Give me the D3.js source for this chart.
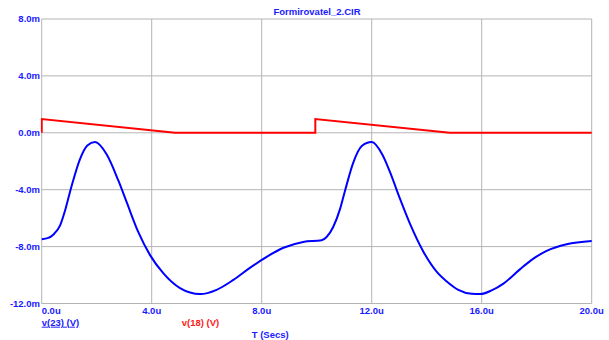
<!DOCTYPE html>
<html>
<head>
<meta charset="utf-8">
<script src="https://cdn.jsdelivr.net/npm/d3@7"></script>
<style>
  html, body { margin: 0; padding: 0; background: #fff; }
  svg { display: block; }
  text { font-family: "Liberation Sans", Arial, sans-serif; font-weight: bold; font-size: 9.5px; }
</style>
</head>
<body>
<svg id="chart" width="609" height="340"></svg>
<script>
// ---- data ----
const title = "Formirovatel_2.CIR";
const xTicks = [0, 4, 8, 12, 16, 20];            // microseconds
const xTickLabels = ["0.0u", "4.0u", "8.0u", "12.0u", "16.0u", "20.0u"];
const yTicks = [8, 4, 0, -4, -8, -12];           // millivolts
const yTickLabels = ["8.0m", "4.0m", "0.0m", "-4.0m", "-8.0m", "-12.0m"];

// v(23) (blue)
const v23Time = [0.0, 0.24, 0.42, 0.67, 0.85, 1.09, 1.39, 1.66, 1.94, 2.36, 2.79, 3.09, 3.51, 3.94, 4.42, 5.03, 5.76, 6.36, 6.97, 7.57, 8.18, 8.79, 9.51,
                 10.18, 10.36, 10.6, 10.85, 11.03, 11.33, 11.64, 12.0, 12.4, 12.67, 13.03, 13.39, 13.88, 14.36, 14.73, 15.15, 15.64, 15.94, 16.36, 16.79, 17.39, 17.88, 18.36, 19.09, 20.0];
const v23Value = [-7.48, -7.39, -7.16, -6.51, -5.46, -3.72, -1.86, -0.89, -0.65, -1.51, -3.37, -4.88, -6.97, -8.6, -9.87, -10.92, -11.34, -11.04, -10.34, -9.5, -8.72, -8.08, -7.67,
                  -7.55, -7.32, -6.62, -5.35, -4.07, -2.09, -0.93, -0.65, -1.58, -2.79, -4.65, -6.39, -8.36, -9.76, -10.45, -11.04, -11.32, -11.34, -11.08, -10.6, -9.6, -8.85, -8.3, -7.83, -7.6];

// v(18) (red)
const v18Time = [0, 0, 4.85, 9.95, 9.95, 14.84, 20];
const v18Value = [0, 0.97, 0, 0, 0.97, 0, 0];

const seriesNames = ["v(23) (V)", "v(18) (V)"];
const xAxisTitle = "T (Secs)";

// ---- drawing ----
const svg = d3.select("#chart");
const x = d3.scaleLinear().domain([0, 20]).range([41.7, 591.7]);
const y = d3.scaleLinear().domain([-12, 8]).range([303.5, 19]);

const gridColor = "#b4b4b4";
const textBlue = "#1a1aff";

// grid
svg.append("g").selectAll("line").data(xTicks).join("line")
  .attr("x1", d => x(d)).attr("x2", d => x(d))
  .attr("y1", y(8)).attr("y2", y(-12))
  .attr("stroke", gridColor).attr("stroke-width", 1);
svg.append("g").selectAll("line").data(yTicks).join("line")
  .attr("x1", x(0)).attr("x2", x(20))
  .attr("y1", d => y(d)).attr("y2", d => y(d))
  .attr("stroke", gridColor).attr("stroke-width", 1);

// y tick labels
svg.append("g").selectAll("text").data(yTicks).join("text")
  .attr("x", 40).attr("y", d => y(d) + 3)
  .attr("text-anchor", "end")
  .attr("fill", textBlue)
  .text((d, i) => yTickLabels[i]);

// x tick labels
svg.append("g").selectAll("text").data(xTicks).join("text")
  .attr("x", d => x(d))
  .attr("y", 314)
  .attr("text-anchor", (d, i) => i === 0 ? "start" : "middle")
  .attr("fill", textBlue)
  .text((d, i) => xTickLabels[i]);

// title
svg.append("text").attr("x", 317).attr("y", 15)
  .attr("text-anchor", "middle").attr("fill", textBlue).text(title);

// lines
svg.append("defs").append("clipPath").attr("id", "clip")
  .append("rect").attr("x", x(0) - 1).attr("y", y(8)).attr("width", x(20) - x(0) + 2).attr("height", y(-12) - y(8));

const v18 = v18Time.map((t, i) => [t, v18Value[i]]);
const v23 = v23Time.map((t, i) => [t, v23Value[i]]);

svg.append("path").datum(v18)
  .attr("d", d3.line().x(d => x(d[0])).y(d => y(d[1])))
  .attr("fill", "none").attr("stroke", "#ff0000").attr("stroke-width", 2)
  .attr("clip-path", "url(#clip)");

svg.append("path").datum(v23)
  .attr("d", d3.line().curve(d3.curveMonotoneX).x(d => x(d[0])).y(d => y(d[1])))
  .attr("fill", "none").attr("stroke", "#0000ff").attr("stroke-width", 2)
  .attr("stroke-linejoin", "round")
  .attr("clip-path", "url(#clip)");

// legend
svg.append("text").attr("x", 41.7).attr("y", 325.7)
  .attr("fill", textBlue).attr("text-decoration", "underline").text(seriesNames[0]);
svg.append("text").attr("x", 181.7).attr("y", 325.7)
  .attr("fill", "#ff1a1a").text(seriesNames[1]);
svg.append("text").attr("x", 251.7).attr("y", 338)
  .attr("fill", textBlue).text(xAxisTitle);
</script>
</body>
</html>
